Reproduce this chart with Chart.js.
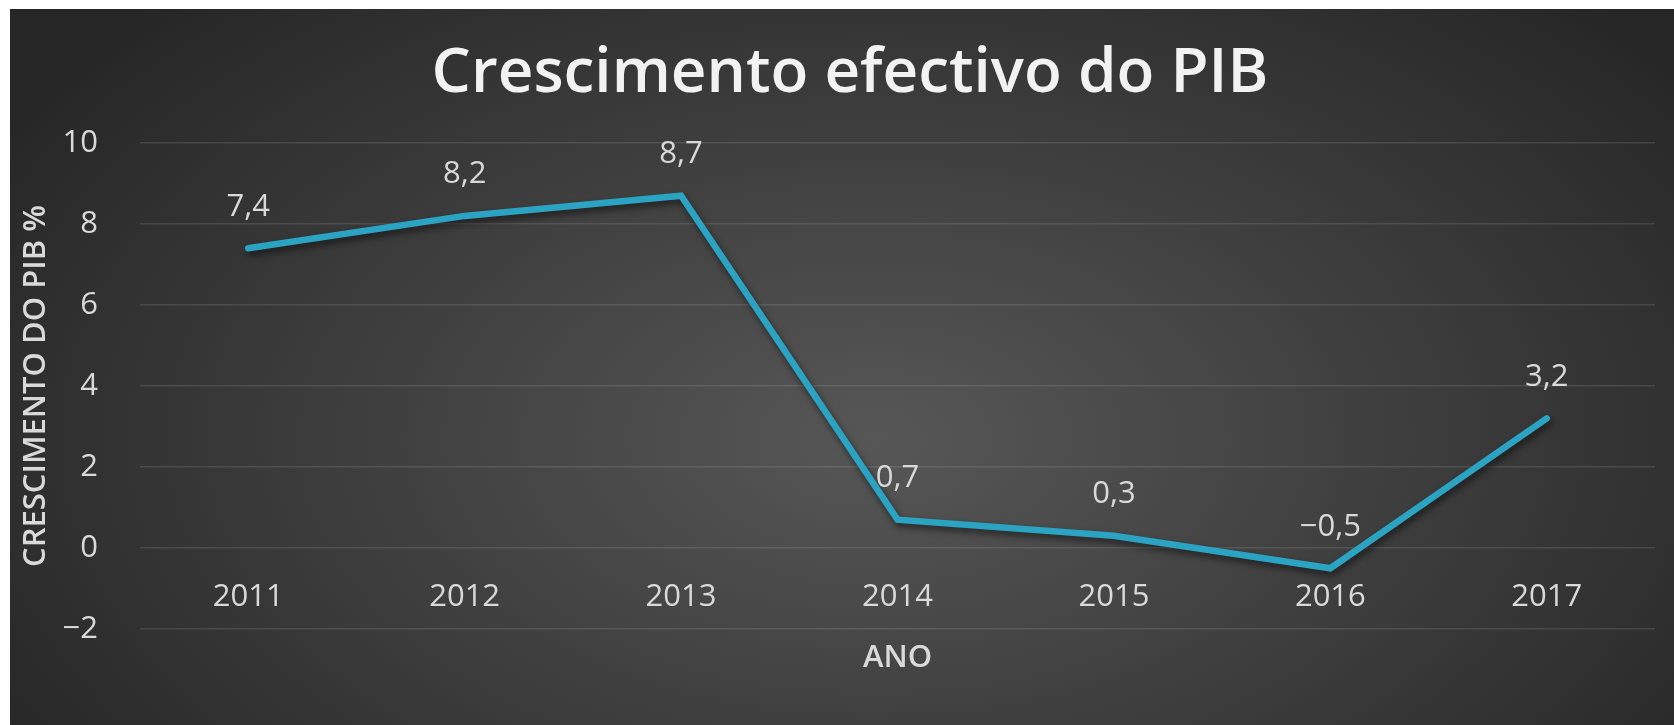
<!DOCTYPE html>
<html>
<head>
<meta charset="utf-8">
<script src="https://cdn.jsdelivr.net/npm/chart.js@4/dist/chart.umd.min.js"></script>
<style>
  html, body { margin: 0; padding: 0; background: #fff; overflow: hidden; }
  #wrap {
    position: absolute; left: 10px; top: 9px; width: 1664px; height: 716px;
    background: radial-gradient(ellipse 62% 85% at 52% 60%, #575757 0%, #3c3c3c 55%, #262626 100%);
  }
</style>
</head>
<body>
<div id="wrap"><canvas id="chart-pib"></canvas></div>
<script>
// ── data ──
const years  = ['2011', '2012', '2013', '2014', '2015', '2016', '2017'];
const growth = [7.4, 8.2, 8.7, 0.7, 0.3, -0.5, 3.2];
const yMin = -2, yMax = 10, yStep = 2;

const TEXT = '#d9d9d9';
const LINE = '#2ba4c4';

const fmt = v => v.toFixed(Number.isInteger(v) ? 0 : 1).replace('.', ',').replace('-', '\u2212');

// soft shadow under the line
const lineShadow = {
  id: 'lineShadow',
  beforeDatasetDraw(chart) {
    const c = chart.ctx;
    c.save();
    c.shadowColor = 'rgba(0,0,0,0.55)';
    c.shadowBlur = 7;
    c.shadowOffsetX = 2;
    c.shadowOffsetY = 4;
  },
  afterDatasetDraw(chart) { chart.ctx.restore(); }
};

// value labels above each point
const valueLabels = {
  id: 'valueLabels',
  afterDatasetsDraw(chart) {
    const c = chart.ctx;
    const meta = chart.getDatasetMeta(0);
    c.save();
    c.font = '400 31px "Open Sans"';
    c.fillStyle = TEXT;
    c.textAlign = 'center';
    c.textBaseline = 'middle';
    meta.data.forEach((pt, i) => {
      c.fillText(fmt(growth[i]), pt.x, pt.y - 41.5);
    });
    c.restore();
  }
};

new Chart(document.getElementById('chart-pib'), {
  type: 'line',
  data: {
    labels: years,
    datasets: [{
      label: 'Crescimento do PIB %',
      data: growth,
      borderColor: LINE,
      borderWidth: 6.5,
      borderCapStyle: 'round',
      borderJoinStyle: 'miter',
      pointRadius: 0,
      tension: 0,
      fill: false,
    }]
  },
  plugins: [lineShadow, valueLabels],
  options: {
    responsive: true, maintainAspectRatio: false,
    animation: false,
    // left padding pushes the centred title right, like the original
    layout: { padding: { left: 35, right: 19, top: 0, bottom: 96 } },
    plugins: {
      legend: { display: false },
      tooltip: { enabled: false },
      title: {
        display: true,
        text: 'Crescimento efectivo do PIB',
        color: '#f2f2f2',
        font: { family: 'Open Sans', size: 62, weight: '600' },
        padding: { top: 28, bottom: 31.6 }
      }
    },
    scales: {
      x: {
        type: 'category',
        offset: true,
        position: { y: 0 },
        afterFit: s => { s.height = 129; },
        grid: { display: false, drawTicks: false },
        border: { display: false },
        ticks: { color: TEXT, padding: 31, font: { family: 'Open Sans', size: 31 } },
        title: {
          display: true, text: 'ANO', color: TEXT,
          font: { family: 'Open Sans', size: 31, weight: '600' },
          padding: { top: 0, bottom: 0 }
        }
      },
      y: {
        min: yMin, max: yMax,
        afterFit: s => { s.width = 95; },
        grid: { color: 'rgba(255,255,255,0.11)', lineWidth: 1.5, drawTicks: false },
        border: { display: false },
        ticks: {
          stepSize: yStep, color: TEXT, padding: 42,
          font: { family: 'Open Sans', size: 31 },
          callback: v => fmt(v)
        },
        title: {
          display: true, text: 'CRESCIMENTO DO PIB %', color: TEXT,
          font: { family: 'Open Sans', size: 31, weight: '600' },
          padding: { top: -27, bottom: 0 }
        }
      }
    }
  }
});
</script>
</body>
</html>
